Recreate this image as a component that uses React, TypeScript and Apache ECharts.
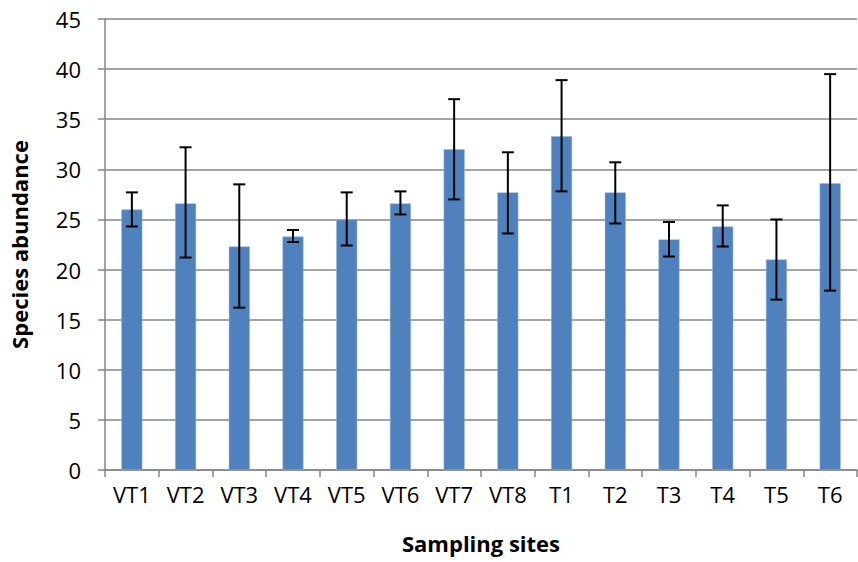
import React, { useEffect, useRef } from "react";
import * as echarts from "echarts";

const categories = ["VT1", "VT2", "VT3", "VT4", "VT5", "VT6", "VT7", "VT8", "T1", "T2", "T3", "T4", "T5", "T6"];
const means = [26.0, 26.6, 22.3, 23.3, 25.0, 26.6, 32.0, 27.7, 33.3, 27.7, 23.0, 24.3, 21.0, 28.6];
const errLow = [24.3, 21.2, 16.2, 22.75, 22.4, 25.5, 27.0, 23.6, 27.8, 24.6, 21.3, 22.3, 17.0, 17.9];
const errHigh = [27.7, 32.2, 28.5, 23.95, 27.7, 27.8, 37.0, 31.7, 38.9, 30.7, 24.75, 26.4, 25.0, 39.5];
const yTicks = { min: 0, max: 45, interval: 5 };

const FONT = "'Open Sans', 'Noto Sans', sans-serif";

export default function App() {
  const ref = useRef<HTMLDivElement>(null);
  useEffect(() => {
    if (!ref.current) return;
    const chart = echarts.init(ref.current, null, { renderer: "svg" });
    const errData = categories.map((_, i) => [i, errLow[i], errHigh[i]]);
    chart.setOption({
      animation: false,
      backgroundColor: "#ffffff",
      grid: { left: 97, right: 1, top: 19, bottom: 92, containLabel: false },
      xAxis: {
        type: "category",
        data: categories,
        boundaryGap: true,
        name: "Sampling sites",
        nameLocation: "middle",
        nameGap: 62,
        nameTextStyle: { fontFamily: FONT, fontWeight: "bold", fontSize: 22, color: "#000" },
        axisLine: { show: true, lineStyle: { color: "#868686", width: 1.5 } },
        axisTick: { show: true, length: 7, alignWithLabel: false, lineStyle: { color: "#868686", width: 1.5 } },
        axisLabel: { fontFamily: FONT, fontSize: 22, color: "#000", margin: 13, interval: 0 },
        splitLine: { show: false },
      },
      yAxis: {
        type: "value",
        min: yTicks.min,
        max: yTicks.max,
        interval: yTicks.interval,
        name: "Species abundance",
        nameLocation: "middle",
        nameGap: 75,
        nameTextStyle: { fontFamily: FONT, fontWeight: "bold", fontSize: 22, color: "#000" },
        axisLine: { show: true, lineStyle: { color: "#868686", width: 1.5 } },
        axisTick: { show: true, length: 7, lineStyle: { color: "#868686", width: 1.5 } },
        axisLabel: { fontFamily: FONT, fontSize: 22, color: "#000", margin: 24 },
        splitLine: { show: true, lineStyle: { color: "#868686", width: 1.5 } },
      },
      series: [
        {
          type: "bar",
          data: means,
          barWidth: 21,
          itemStyle: { color: "#4F81BD", borderColor: "#9db7d9", borderWidth: 0.5 },
          z: 2,
        },
        {
          type: "custom",
          data: errData,
          z: 3,
          renderItem: (params: any, api: any) => {
            const x = api.value(0);
            const lo = api.coord([x, api.value(1)]);
            const hi = api.coord([x, api.value(2)]);
            const half = 6;
            const style = { stroke: "#000", lineWidth: 2 };
            return {
              type: "group",
              children: [
                { type: "line", shape: { x1: hi[0], y1: hi[1], x2: lo[0], y2: lo[1] }, style },
                { type: "line", shape: { x1: hi[0] - half, y1: hi[1], x2: hi[0] + half, y2: hi[1] }, style },
                { type: "line", shape: { x1: lo[0] - half, y1: lo[1], x2: lo[0] + half, y2: lo[1] }, style },
              ],
            };
          },
        },
      ],
    });
    return () => chart.dispose();
  }, []);
  return <div ref={ref} style={{ width: 858, height: 562, position: "absolute", left: 0, top: 0 }} />;
}
